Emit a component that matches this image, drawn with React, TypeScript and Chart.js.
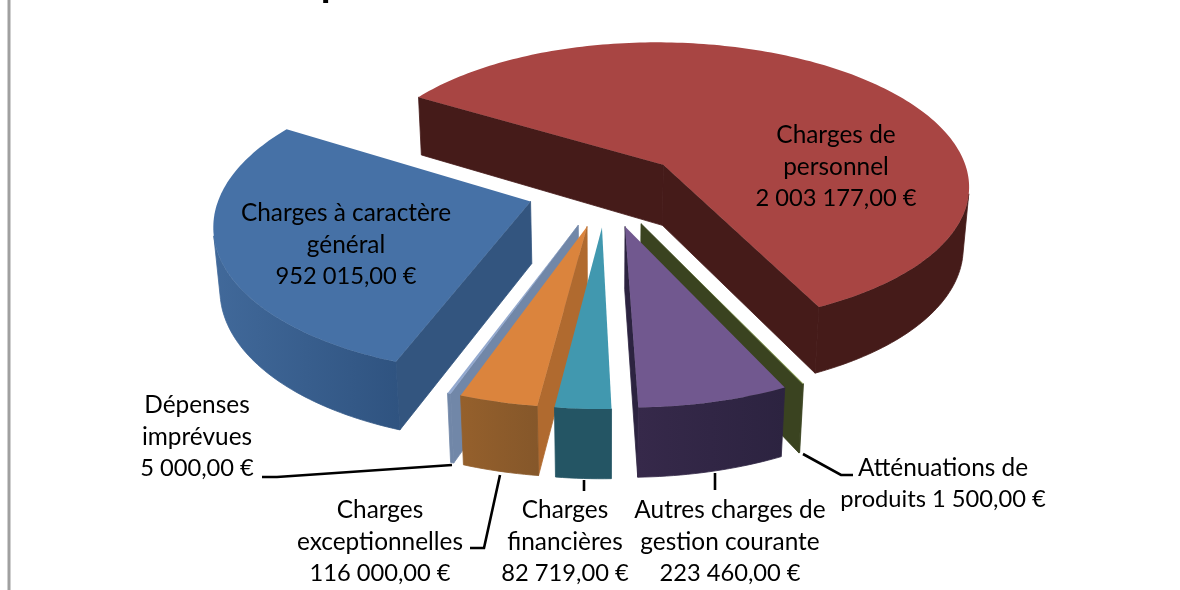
import React, { useEffect, useRef } from "react";
import { Chart, registerables } from "chart.js";

Chart.register(...registerables);

const categories = [
  "Charges à caractère général",
  "Charges de personnel",
  "Atténuations de produits",
  "Autres charges de gestion courante",
  "Charges financières",
  "Charges exceptionnelles",
  "Dépenses imprévues",
];
const values = [952015, 2003177, 1500, 223460, 82719, 116000, 5000];
const topColors = ["#4671a6", "#a84543", "#8aa04e", "#71588f", "#4198af", "#db843d", "#93a9cf"];
const cutColors = ["#33557f", "#451b19", "#3a4320", "#2c2340", "#245564", "#b06a2f", "#7187a8"];
const wallLeft = ["#41699a", "#451b19", "#3a4320", "#36294a", "#245564", "#95602c", "#7187a8"];
const wallRight = ["#2f5380", "#451b19", "#3a4320", "#2c2340", "#245564", "#85572a", "#7187a8"];
const labelLines = [
  ["Charges à caractère", "général", "952 015,00 €"],
  ["Charges de", "personnel", "2 003 177,00 €"],
  ["Atténuations de", "produits 1 500,00 €"],
  ["Autres charges de", "gestion courante", "223 460,00 €"],
  ["Charges", "financières", "82 719,00 €"],
  ["Charges", "exceptionnelles", "116 000,00 €"],
  ["Dépenses", "imprévues", "5 000,00 €"],
];

// Layout only: label centres (x, y of first line) and leader lines.
const labelPos = [
  [346, 213],
  [836, 135],
  [943, 468],
  [730, 510],
  [565, 510],
  [380, 510],
  [197, 405],
];
const leaders = [
  [[262, 477], [277, 477], [452, 465]],
  [[470, 548], [484, 548], [500, 475]],
  [[584, 480], [584, 491]],
  [[715, 473], [715, 490]],
  [[803, 454], [841, 475], [853, 475]],
];
const LINE_H = 31.8;
const FONT = "24.4px Lato";
const FONT_AMOUNT = "23.7px Lato";
const ROTATION = 200.1;
const EXPLODE = 79;
const RADIUS = 309;
const TILT_SIN = 0.47;
const TILT_COS = Math.sqrt(1 - TILT_SIN * TILT_SIN);
const DIST = 2000;
const THICK = 71;
const SHIFT_X = 16;
const SHIFT_Y = -106;

const pie3d = {
  id: "pie3d",
  beforeDatasetDraw(chart: any, args: any) {
    const ctx: CanvasRenderingContext2D = chart.ctx;
    const arcs = chart.getDatasetMeta(args.index).data;
    const cx = arcs[0].x + SHIFT_X;
    const cy = arcs[0].y + SHIFT_Y;
    const proj = (u: number, v: number, z: number) => {
      const y = v * TILT_SIN + z * TILT_COS;
      const depth = DIST - v * TILT_COS + z * TILT_SIN;
      const s = DIST / depth;
      return [cx + u * s, cy + y * s];
    };
    const face = (pts: number[][], color: any, seal = false) => {
      ctx.beginPath();
      pts.forEach((p, i) => (i ? ctx.lineTo(p[0], p[1]) : ctx.moveTo(p[0], p[1])));
      ctx.closePath();
      ctx.fillStyle = color;
      ctx.fill();
      if (seal) {
        ctx.strokeStyle = color;
        ctx.lineWidth = 0.8;
        ctx.stroke();
      }
    };
    const isFront = (q: number[][]) => {
      let a = 0;
      q.forEach((p, i) => {
        const n = q[(i + 1) % q.length];
        a += p[0] * n[1] - n[0] * p[1];
      });
      return a < 0;
    };
    const order = arcs
      .map((el: any, i: number) => {
        const mid = (el.startAngle + el.endAngle) / 2;
        return { el, i, mid, key: Math.sin(mid) };
      })
      .sort((a: any, b: any) => a.key - b.key);

    order.forEach(({ el, i, mid }: any) => {
      const off = el.options.offset;
      const ax = off * Math.cos(mid);
      const ay = off * Math.sin(mid);
      const R = el.outerRadius;
      const steps = Math.max(2, Math.ceil((el.endAngle - el.startAngle) / 0.02));
      const rim: number[][] = [];
      for (let k = 0; k <= steps; k++) {
        const a = el.startAngle + ((el.endAngle - el.startAngle) * k) / steps;
        rim.push([ax + R * Math.cos(a), ay + R * Math.sin(a)]);
      }
      const top = (p: number[]) => proj(p[0], p[1], 0);
      const bot = (p: number[]) => proj(p[0], p[1], THICK);
      const apex = [ax, ay];
      const quad = (a: number[], b: number[]) => [top(a), top(b), bot(b), bot(a)];
      [quad(apex, rim[0]), quad(rim[rim.length - 1], apex)].forEach((q) => {
        if (isFront(q)) face(q, cutColors[i], true);
      });
      const front: number[][] = [];
      for (let k = 0; k <= steps; k++) {
        const ok =
          (k < steps && isFront(quad(rim[k], rim[k + 1]))) ||
          (k > 0 && isFront(quad(rim[k - 1], rim[k])));
        if (ok) front.push(rim[k]);
      }
      if (front.length > 1) {
        const pts = [...front.map(top), ...front.slice().reverse().map(bot)];
        const xs = pts.map((p) => p[0]);
        const g = ctx.createLinearGradient(Math.min(...xs), 0, Math.max(...xs), 0);
        g.addColorStop(0, wallLeft[i]);
        g.addColorStop(1, wallRight[i]);
        face(pts, g, true);
      }
      face([top(apex), ...rim.map(top)], el.options.backgroundColor);
    });
    return false;
  },
  afterDraw(chart: any) {
    const ctx: CanvasRenderingContext2D = chart.ctx;
    ctx.save();
    ctx.strokeStyle = "#a0a0a0";
    ctx.lineWidth = 3;
    ctx.beginPath();
    ctx.moveTo(9, 0);
    ctx.lineTo(9, 590);
    ctx.stroke();
    ctx.strokeStyle = "#000";
    ctx.lineWidth = 2.6;
    leaders.forEach((l) => {
      ctx.beginPath();
      l.forEach((p, i) => (i ? ctx.lineTo(p[0], p[1]) : ctx.moveTo(p[0], p[1])));
      ctx.stroke();
    });
    ctx.fillStyle = "#000";
    ctx.textAlign = "center";
    ctx.textBaseline = "middle";
    labelLines.forEach((lines, i) => {
      lines.forEach((t, j) => {
        ctx.font = t.includes("€") ? FONT_AMOUNT : FONT;
        ctx.fillText(t, labelPos[i][0], labelPos[i][1] + j * LINE_H);
      });
    });
    ctx.font = "bold 40px Lato";
    ctx.textBaseline = "alphabetic";
    ctx.fillText("p", 332, -4);
    ctx.restore();
  },
};

export default function App() {
  const ref = useRef<HTMLCanvasElement>(null);
  useEffect(() => {
    const chart = new Chart(ref.current!, {
      type: "pie",
      data: {
        labels: categories,
        datasets: [
          {
            data: values,
            backgroundColor: topColors,
            offset: EXPLODE,
            borderWidth: 0,
            radius: RADIUS,
          } as any,
        ],
      },
      options: {
        responsive: false,
        animation: false,
        rotation: ROTATION,
        radius: RADIUS,
        layout: { padding: 0 },
        plugins: { legend: { display: false }, tooltip: { enabled: false } },
      } as any,
      plugins: [pie3d as any],
    });
    return () => chart.destroy();
  }, []);
  return (
    <div style={{ position: "absolute", left: 0, top: 0, width: 1180, height: 590, background: "#fff" }}>
      <canvas ref={ref} width={1180} height={590} style={{ display: "block" }} />
    </div>
  );
}
